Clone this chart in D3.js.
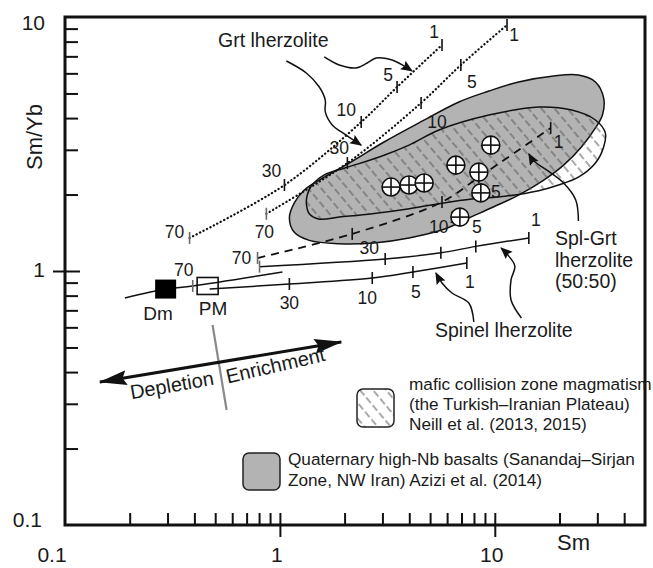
<!DOCTYPE html>
<html>
<head>
<meta charset="utf-8">
<script src="https://cdn.jsdelivr.net/npm/d3@7"></script>
<style>
body{margin:0;background:#fff;}
svg text{font-family:"Liberation Sans",Arial,sans-serif;fill:#1a1a1a;}
</style>
</head>
<body>
<script>
//values: [Sm, Sm/Yb]

//melting curves (ticks = degree of melting, %)
var grtMeltA = [[0.380,1.35],[1.05,2.18],[2.39,3.86],[3.51,5.30],[5.68,7.76]];
var grtMeltB = [[0.865,1.68],[2.06,2.66],[4.54,4.59],[6.95,6.47],[11.4,9.30]];
var splGrtMelt = [[0.787,1.125],[2.17,1.40],[5.68,1.87],[8.43,2.34],[18.2,3.66]];
var splMeltUpper = [[0.804,1.04],[3.09,1.115],[5.61,1.18],[8.16,1.25],[14.4,1.35]];
var splMeltPM = [[0.471,0.849],[1.107,0.889],[2.69,0.938],[4.16,0.991],[7.41,1.075]];
var dmMelt = [[0.190,0.783],[0.294,0.849],[0.393,0.873],[1.027,0.991]];

var grtLabels = ["70","30","10","5","1"];
var splGrtLabels = ["70","30","10","5","1"];
var splUpperLabels = ["","","10","5","1"];
var splPMLabels = ["","30","10","5","1"];
var dmLabels = ["","","70",""];

//mantle sources
var dmSource = [0.294,0.849];
var pmSource = [0.461,0.873];

//samples
var sampleSm = [3.29,3.99,4.69,6.59,9.58,8.43,8.61,6.88];
var sampleSmYb = [2.14,2.18,2.22,2.61,3.13,2.45,2.03,1.63];

//Quaternary high-Nb basalts field (Azizi et al. 2014)
var aziziField = [[1.107,1.617],[1.167,1.853],[1.30,2.084],[1.525,2.281],[2.10,2.66],[3.05,3.22],
  [4.44,3.83],[6.81,4.63],[9.38,5.11],[12.9,5.55],[18.8,5.86],[24.5,5.91],[29.4,5.55],[32.1,4.80],
  [31.7,4.11],[29.4,3.66],[25.3,3.08],[20.9,2.61],[16.9,2.28],[12.9,1.99],[9.9,1.79],[7.57,1.617],
  [5.80,1.46],[3.99,1.35],[2.74,1.29],[1.89,1.28],[1.37,1.32],[1.167,1.42]];

//mafic collision zone magmatism field (Neill et al. 2013, 2015)
var neillField = [[1.34,1.99],[1.40,2.16],[1.61,2.39],[1.99,2.54],[2.90,2.81],[3.99,3.13],[5.50,3.59],
  [9.38,4.11],[16.0,4.42],[22.8,4.30],[29.4,3.93],[32.7,3.49],[32.1,3.08],[29.4,2.66],[24.5,2.34],
  [19.8,2.18],[16.0,2.07],[11.2,1.97],[7.82,1.92],[5.50,1.84],[3.86,1.75],[2.69,1.68],[1.89,1.63],
  [1.525,1.60],[1.37,1.68],[1.33,1.82]];

//annotation arrows
var arrowGrtA = [[1.609,6.96],[1.888,6.47],[2.265,6.30],[2.547,6.59],[2.804,6.90],[3.327,6.77],[3.783,6.41],[4.12,6.13]];
var arrowGrtB = [[1.072,6.71],[1.327,6.02],[1.525,5.30],[1.626,4.71],[1.626,4.23],[1.752,3.76],[2.035,3.43],[2.389,3.13]];
var arrowSplGrt = [[24.5,1.573],[23.8,1.904],[20.9,2.22],[17.4,2.50],[15.2,2.71],[14.4,2.89]];
var arrowSplA = [[7.99,0.630],[7.57,0.748],[6.32,0.819],[5.68,0.897],[5.32,0.982]];
var arrowSplB = [[13.3,0.653],[11.9,0.769],[11.9,0.922],[12.4,1.046],[11.4,1.166],[10.7,1.232]];
var trendArrow = [[0.1453,0.3656],[1.930,0.5255]];
var trendDivider = [[0.486,0.613],[0.565,0.2837]];

//axis ticks
var xMinor = [0.2,0.3,0.4,0.5,0.6,0.7,0.8,0.9,2,3,4,5,6,7,8,9,20,30,40];
var yMinor = [0.2,0.3,0.4,0.5,0.6,0.7,0.8,0.9,2,3,4,5,6,7,8,9];
var xLabels = [0.1,1,10];
var yLabels = [10,1,0.1];

//begin
var width = 653, height = 568;
var svg = d3.select("body").append("svg")
    .attr("width", width)
    .attr("height", height);

var x = d3.scaleLog().domain([0.1,50]).range([65,645]);
var y = d3.scaleLog().domain([0.1,10]).range([525,17]);

var defs = svg.append("defs");
var hatch = defs.append("pattern")
    .attr("id","hatch")
    .attr("patternUnits","userSpaceOnUse")
    .attr("width",10).attr("height",10)
    .attr("patternTransform","rotate(-40)");
hatch.append("line")
    .attr("x1",5).attr("y1",0).attr("x2",5).attr("y2",10)
    .attr("stroke","#555").attr("stroke-width",1)
    .attr("stroke-dasharray","7,3");

defs.append("marker")
    .attr("id","head")
    .attr("markerUnits","userSpaceOnUse")
    .attr("markerWidth",14).attr("markerHeight",12)
    .attr("refX",11).attr("refY",5)
    .attr("orient","auto")
  .append("path")
    .attr("d","M0,0L12,5L0,10L2,5Z")
    .attr("fill","#111");

defs.append("marker")
    .attr("id","bighead")
    .attr("markerUnits","userSpaceOnUse")
    .attr("markerWidth",30).attr("markerHeight",18)
    .attr("refX",27).attr("refY",7.5)
    .attr("orient","auto-start-reverse")
  .append("path")
    .attr("d","M0,0L28,7.5L0,15L4,7.5Z")
    .attr("fill","#111");

//axes
var xAxisG = svg.append("g").attr("transform","translate(0,"+y(0.1)+")");
xAxisG.call(d3.axisBottom(x).tickValues(xMinor).tickSize(-12).tickFormat(""));
xAxisG.append("g").call(d3.axisBottom(x).tickValues([1,10]).tickSize(12).tickFormat(""));
xAxisG.append("g").call(d3.axisBottom(x).tickValues([1,10]).tickSize(-12).tickFormat(""));

var yAxisG = svg.append("g").attr("transform","translate("+x(0.1)+",0)");
yAxisG.call(d3.axisLeft(y).tickValues(yMinor).tickSize(-13).tickFormat(""));
yAxisG.append("g").call(d3.axisLeft(y).tickValues([1]).tickSize(12).tickFormat(""));
yAxisG.append("g").call(d3.axisLeft(y).tickValues([1]).tickSize(-15).tickFormat(""));

svg.selectAll(".domain").remove();
svg.selectAll(".tick line").attr("stroke","#111").attr("stroke-width",2);

svg.append("rect")
    .attr("x",x(0.1)).attr("y",y(10))
    .attr("width",x(50)-x(0.1)).attr("height",y(0.1)-y(10))
    .attr("fill","none").attr("stroke","#111").attr("stroke-width",3);

svg.selectAll(".xlab").data(xLabels).enter().append("text")
    .attr("class","xlab")
    .attr("x",function(d){ return x(d) - (d===0.1 ? 13 : 3); })
    .attr("y",562)
    .attr("text-anchor","middle")
    .style("font-size","21px")
    .text(function(d){ return d; });

svg.selectAll(".ylab").data(yLabels).enter().append("text")
    .attr("class","ylab")
    .attr("x",function(d){ return d===0.1 ? 42 : 45; })
    .attr("y",function(d){ return y(d) + (d===10 ? 13 : d===1 ? 6 : 2); })
    .attr("text-anchor","end")
    .style("font-size","21px")
    .text(function(d){ return d; });

svg.append("text")
    .attr("transform","translate(42,137) rotate(-90)")
    .attr("text-anchor","middle")
    .style("font-size","22px")
    .text("Sm/Yb");

svg.append("text")
    .attr("x",557).attr("y",550)
    .style("font-size","22px")
    .text("Sm");

//fields
var fieldLine = d3.line()
    .x(function(d){ return x(d[0]); })
    .y(function(d){ return y(d[1]); })
    .curve(d3.curveCatmullRomClosed);

svg.append("path")
    .datum(aziziField)
    .attr("class","azizi")
    .attr("d",fieldLine)
    .attr("fill","#b3b3b3").attr("stroke","#111").attr("stroke-width",1.5);

svg.append("path")
    .datum(neillField)
    .attr("class","neill")
    .attr("d",fieldLine)
    .attr("fill","url(#hatch)").attr("stroke","#111").attr("stroke-width",1.5);

//melting curves
var curveLine = d3.line()
    .x(function(d){ return x(d[0]); })
    .y(function(d){ return y(d[1]); })
    .curve(d3.curveCatmullRom);

var curves = [
    {pts:grtMeltA, labels:grtLabels, dash:"0.3,3.6", w:2.2, ticks:[0,1,2,3,4],
        off:[[-15,-6],[-13,-14],[-15,-12],[-9,-12],[-8,-13]]},
    {pts:grtMeltB, labels:grtLabels, dash:"0.3,3.6", w:2.2, ticks:[0,1,2,3,4],
        off:[[-2,18],[-8,-15],[16,19],[11,17],[7,10]]},
    {pts:splGrtMelt, labels:splGrtLabels, dash:"8,6", w:1.8, ticks:[0,1,2,3,4],
        off:[[-16,0],[17,14],[17,15],[17,15],[8,14]]},
    {pts:splMeltUpper, labels:splUpperLabels, dash:null, w:1.5, ticks:[0,1,2,3,4],
        off:[[0,0],[0,0],[-2,-26],[1,-19],[7,-18]]},
    {pts:splMeltPM, labels:splPMLabels, dash:null, w:1.5, ticks:[1,2,3,4],
        off:[[0,0],[0,19],[-5,20],[3,20],[3,19]]},
    {pts:dmMelt, labels:dmLabels, dash:null, w:1.5, ticks:[2],
        off:[[0,0],[0,0],[-9,-16],[0,0]]}
];

//PM open square sits under the curves
svg.append("rect")
    .attr("x",x(pmSource[0])-10.5).attr("y",y(pmSource[1])-8.5)
    .attr("width",21).attr("height",17)
    .attr("fill","#fff").attr("stroke","#111").attr("stroke-width",1.6);

curves.forEach(function(c){
    svg.append("path")
        .datum(c.pts)
        .attr("d",curveLine)
        .attr("fill","none")
        .attr("stroke","#111")
        .attr("stroke-width",c.w)
        .attr("stroke-linecap",c.dash && c.dash.indexOf("0.3")===0 ? "round" : "butt")
        .attr("stroke-dasharray",c.dash);

    c.ticks.forEach(function(i){
        var p = c.pts[i];
        svg.append("line")
            .attr("x1",x(p[0])).attr("x2",x(p[0]))
            .attr("y1",y(p[1])-6).attr("y2",y(p[1])+6)
            .attr("stroke", i===0 || c.labels[i]==="70" ? "#6a6a6a" : "#111")
            .attr("stroke-width",1.6);
    });

    c.pts.forEach(function(p,i){
        if(!c.labels[i]) return;
        svg.append("text")
            .attr("x",x(p[0]) + c.off[i][0])
            .attr("y",y(p[1]) + c.off[i][1] + 6)
            .attr("text-anchor","middle")
            .style("font-size","17.5px")
            .text(c.labels[i]);
    });
});

//Dm filled square
svg.append("rect")
    .attr("x",x(dmSource[0])-10.5).attr("y",y(dmSource[1])-9.5)
    .attr("width",21).attr("height",19)
    .attr("fill","#000");

svg.append("text").attr("x",158).attr("y",320).attr("text-anchor","middle")
    .style("font-size","19px").text("Dm");
svg.append("text").attr("x",213).attr("y",315).attr("text-anchor","middle")
    .style("font-size","19px").text("PM");

//samples
var samples = svg.selectAll(".sample")
    .data(sampleSm)
    .enter()
    .append("g")
    .attr("class","sample")
    .attr("transform",function(d,i){ return "translate("+x(d)+","+y(sampleSmYb[i])+")"; });
samples.append("circle").attr("r",9).attr("fill","#fff").attr("stroke","#111").attr("stroke-width",1.6);
samples.append("line").attr("x1",-9).attr("x2",9).attr("stroke","#111").attr("stroke-width",1.6);
samples.append("line").attr("y1",-9).attr("y2",9).attr("stroke","#111").attr("stroke-width",1.6);

//annotation arrows
[arrowGrtA, arrowGrtB, arrowSplGrt, arrowSplA, arrowSplB].forEach(function(a){
    svg.append("path")
        .datum(a)
        .attr("d",curveLine)
        .attr("fill","none")
        .attr("stroke","#111")
        .attr("stroke-width",1.5)
        .attr("marker-end","url(#head)");
});

svg.append("text").attr("x",218).attr("y",47).style("font-size","19.5px").text("Grt lherzolite");
svg.append("text").attr("x",555).attr("y",245).style("font-size","19.5px").text("Spl-Grt");
svg.append("text").attr("x",555).attr("y",267).style("font-size","19.5px").text("lherzolite");
svg.append("text").attr("x",555).attr("y",288).style("font-size","19.5px").text("(50:50)");
svg.append("text").attr("x",435).attr("y",337).style("font-size","19.5px").text("Spinel lherzolite");

//depletion / enrichment
svg.append("line")
    .attr("x1",x(trendDivider[0][0])).attr("y1",y(trendDivider[0][1]))
    .attr("x2",x(trendDivider[1][0])).attr("y2",y(trendDivider[1][1]))
    .attr("stroke","#8a8a8a").attr("stroke-width",2.2);

svg.append("path")
    .datum(trendArrow)
    .attr("d",d3.line().x(function(d){ return x(d[0]); }).y(function(d){ return y(d[1]); }))
    .attr("stroke","#111").attr("stroke-width",3)
    .attr("marker-start","url(#bighead)")
    .attr("marker-end","url(#bighead)");

svg.append("text").attr("transform","translate(173,392) rotate(-10)")
    .attr("text-anchor","middle").style("font-size","20px").text("Depletion");
svg.append("text").attr("transform","translate(277,372) rotate(-13)")
    .attr("text-anchor","middle").style("font-size","20px").text("Enrichment");

//legend
svg.append("rect").attr("x",357).attr("y",389).attr("width",37).attr("height",38).attr("rx",6)
    .attr("fill","url(#hatch)").attr("stroke","#222").attr("stroke-width",1.5);
var neillText = ["mafic collision zone magmatism","(the Turkish\u2013Iranian Plateau)","Neill et al. (2013, 2015)"];
svg.selectAll(".leg1").data(neillText).enter().append("text")
    .attr("x",409).attr("y",function(d,i){ return 390 + i*20; })
    .style("font-size","17.2px").text(function(d){ return d; });

svg.append("rect").attr("x",243).attr("y",453).attr("width",37).attr("height",37).attr("rx",6)
    .attr("fill","#b3b3b3").attr("stroke","#222").attr("stroke-width",1.5);
var aziziText = ["Quaternary high-Nb basalts (Sanandaj\u2013Sirjan","Zone, NW Iran) Azizi et al. (2014)"];
svg.selectAll(".leg2").data(aziziText).enter().append("text")
    .attr("x",288).attr("y",function(d,i){ return 465 + i*21; })
    .style("font-size","17.2px").text(function(d){ return d; });
</script>
</body>
</html>
